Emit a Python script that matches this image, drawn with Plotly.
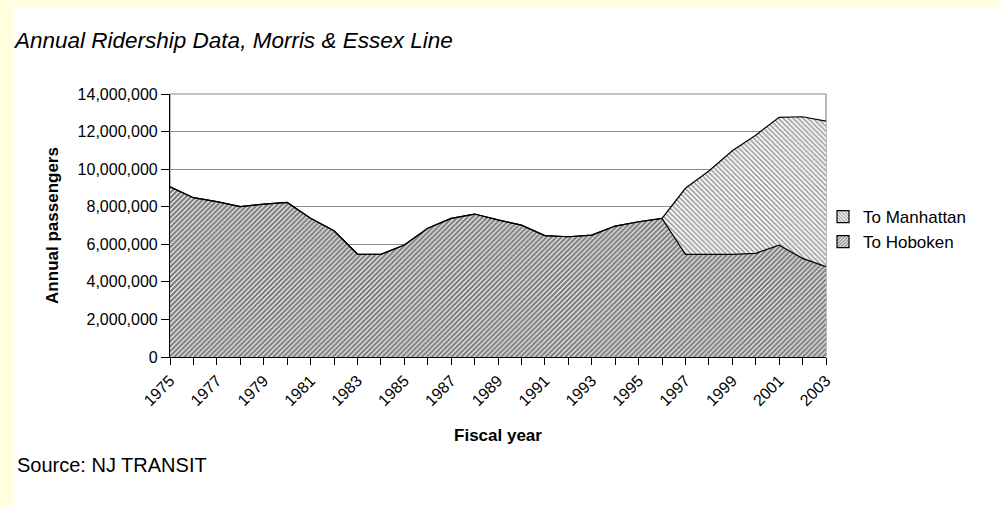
import plotly.graph_objects as go

years = list(range(1975, 2004))
hoboken = [9.06e6, 8.48e6, 8.27e6, 8.00e6, 8.14e6, 8.23e6, 7.38e6, 6.72e6, 5.48e6, 5.46e6,
           5.96e6, 6.85e6, 7.38e6, 7.61e6, 7.30e6, 7.02e6, 6.46e6, 6.40e6, 6.49e6, 6.97e6,
           7.20e6, 7.38e6, 5.46e6, 5.46e6, 5.46e6, 5.52e6, 5.95e6, 5.25e6, 4.81e6]
manhattan = [0]*22 + [3.52e6, 4.44e6, 5.52e6, 6.29e6, 6.81e6, 7.54e6, 7.75e6]
tick_labels = [str(y) if (y - 1975) % 2 == 0 else "" for y in years]
y_ticks = list(range(0, 14000001, 2000000))

FONT = "Liberation Sans, Arial, sans-serif"

# plot-area pixel geometry
L, R, T, B = 170, 826, 94, 357
W, H = R - L, B - T
def px(x):
    return (x - L) / W
def py(y):
    return (B - y) / H

hob_pat = dict(shape="/", fgcolor="black", bgcolor="white", size=3.5, solidity=0.68)
man_pat = dict(shape="\\", fgcolor="#333333", bgcolor="white", size=3.5, solidity=0.45)

fig = go.Figure()
fig.add_trace(go.Scatter(
    x=years, y=hoboken, name="To Hoboken", stackgroup="one", mode="lines",
    line=dict(color="black", width=1.2), fillcolor="white", fillpattern=hob_pat,
    showlegend=False,
))
fig.add_trace(go.Scatter(
    x=years, y=manhattan, name="To Manhattan", stackgroup="one", mode="lines",
    line=dict(color="black", width=1.2), fillcolor="white", fillpattern=man_pat,
    showlegend=False,
))
# legend swatches (square icons as in the original)
fig.add_trace(go.Bar(x=[None], y=[None], name="To Hoboken",
                     marker=dict(color="white", line=dict(color="black", width=1.2),
                                 pattern=dict(shape="/", fgcolor="black", bgcolor="white",
                                              size=3, solidity=0.55))))
fig.add_trace(go.Bar(x=[None], y=[None], name="To Manhattan",
                     marker=dict(color="white", line=dict(color="black", width=1.2),
                                 pattern=dict(shape="\\", fgcolor="#333333", bgcolor="white",
                                              size=3, solidity=0.45))))

shapes = [
    dict(type="rect", xref="paper", yref="paper", x0=px(0), x1=px(1000), y0=py(7.3), y1=py(-5),
         fillcolor="#FFFFE0", line=dict(width=0), layer="below"),
    dict(type="rect", xref="paper", yref="paper", x0=px(-5), x1=px(13.3), y0=py(510), y1=py(-5),
         fillcolor="#FFFFE0", line=dict(width=0), layer="below"),
    dict(type="rect", xref="paper", yref="paper", x0=0, x1=1, y0=0, y1=1,
         line=dict(color="#8c8c8c", width=1.2), layer="below"),
]

fig.update_layout(
    width=999, height=506,
    margin=dict(l=L, r=999 - R, t=T, b=506 - B),
    paper_bgcolor="white", plot_bgcolor="white",
    font=dict(family=FONT, color="black", size=16),
    showlegend=True,
    legend=dict(x=px(823), y=py(199), xanchor="left", yanchor="top",
                traceorder="reversed", font=dict(size=17), bgcolor="rgba(0,0,0,0)",
                itemwidth=30, tracegroupgap=0),
    title=dict(text="<i>Annual Ridership Data, Morris &amp; Essex Line</i>",
               xref="container", yref="container", x=15 / 999, y=1 - 40 / 506,
               xanchor="left", yanchor="middle", font=dict(size=22.5)),
    shapes=shapes,
    annotations=[dict(text="Source: NJ TRANSIT", xref="paper", yref="paper",
                      x=px(15), y=py(465), xanchor="left", yanchor="middle",
                      showarrow=False, font=dict(size=20))],
)
fig.update_xaxes(
    range=[1975, 2003], tickvals=years, ticktext=tick_labels, tickangle=-45,
    ticks="outside", ticklen=7, tickcolor="black", showgrid=False,
    showline=True, linecolor="black", linewidth=1.2, zeroline=False,
    title=dict(text="<b>Fiscal year</b>", font=dict(size=17), standoff=20),
    tickfont=dict(size=16),
)
fig.update_yaxes(
    range=[0, 14000000], tickvals=y_ticks, tickformat=",d",
    ticks="outside", ticklen=8, tickcolor="black",
    showgrid=True, gridcolor="#8c8c8c", gridwidth=1.2,
    showline=True, linecolor="black", linewidth=1.2, zeroline=False,
    title=dict(text="<b>Annual passengers</b>", font=dict(size=17), standoff=14),
    tickfont=dict(size=16),
)
fig.write_html("out.html")
